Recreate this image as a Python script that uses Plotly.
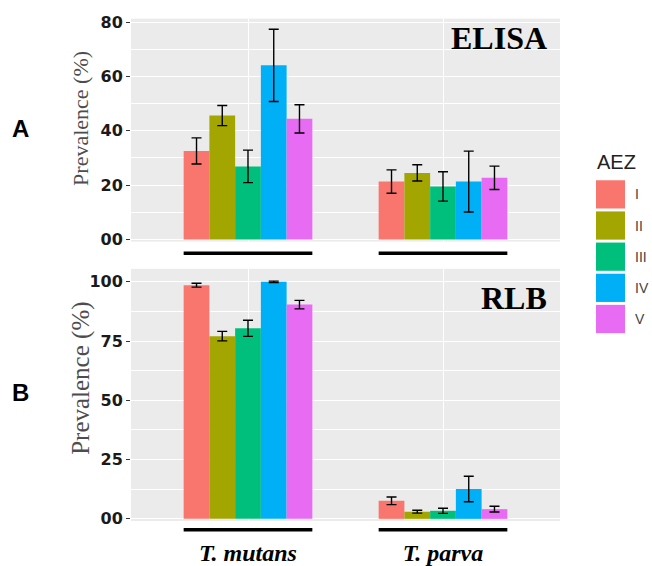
import plotly.graph_objects as go

# ---------------- data ----------------
species = ["T. mutans", "T. parva"]
species_labels = ["<i><b>T. mutans</b></i>", "<i><b>T. parva</b></i>"]
aez = ["I", "II", "III", "IV", "V"]
colors = ["#F8766D", "#A3A500", "#00BF7D", "#00B0F6", "#E76BF3"]

elisa_mutans = [32.6, 45.6, 26.9, 64.1, 44.4]
elisa_mutans_err = [4.8, 3.7, 6.0, 13.3, 5.2]
elisa_parva = [21.3, 24.5, 19.5, 21.3, 22.7]
elisa_parva_err = [4.3, 3.0, 5.4, 11.2, 4.3]

rlb_mutans = [98.6, 77.1, 80.4, 100.0, 90.4]
rlb_mutans_err = [0.8, 2.0, 3.4, 0.3, 1.8]
rlb_parva = [7.6, 3.0, 3.4, 12.6, 4.1]
rlb_parva_err = [1.6, 0.6, 1.1, 5.4, 1.2]

elisa_ticks = [0, 20, 40, 60, 80]
elisa_ticktext = ["00", "20", "40", "60", "80"]
rlb_ticks = [0, 25, 50, 75, 100]
rlb_ticktext = ["00", "25", "50", "75", "100"]

# ---------------- layout helpers ----------------
W, H = 652, 566


def px_x(p):
    return p / W


def px_y(p):
    return 1 - p / H


fig = go.Figure()

for i, name in enumerate(aez):
    fig.add_trace(go.Bar(
        x=species, y=[elisa_mutans[i], elisa_parva[i]],
        error_y=dict(type="data", array=[elisa_mutans_err[i], elisa_parva_err[i]],
                     color="black", thickness=1.4, width=5),
        marker=dict(color=colors[i], line=dict(width=0)),
        name=name, xaxis="x", yaxis="y", showlegend=False,
    ))
    fig.add_trace(go.Bar(
        x=species, y=[rlb_mutans[i], rlb_parva[i]],
        error_y=dict(type="data", array=[rlb_mutans_err[i], rlb_parva_err[i]],
                     color="black", thickness=1.4, width=5),
        marker=dict(color=colors[i], line=dict(width=0)),
        name=name, xaxis="x2", yaxis="y2", showlegend=False,
    ))

xdom = [px_x(131), px_x(560)]
tickfont = dict(family="DejaVu Sans", size=16, color="#1a1a1a", weight="bold")

common_x = dict(domain=xdom, type="category", categoryorder="array",
                categoryarray=species, range=[-0.6, 1.6],
                showgrid=True, gridcolor="white", gridwidth=1.2,
                ticks="", showline=False, zeroline=False)

fig.update_layout(
    width=W, height=H,
    margin=dict(l=0, r=0, t=0, b=0),
    paper_bgcolor="white",
    plot_bgcolor="#EBEBEB",
    barmode="group", bargap=0.34, bargroupgap=0,
    xaxis=dict(**common_x, anchor="y", showticklabels=False),
    yaxis=dict(domain=[px_y(242), px_y(13)], range=[-0.8, 81.3],
               tickvals=elisa_ticks, ticktext=elisa_ticktext,
               ticks="outside", ticklen=4, tickcolor="#333", tickwidth=1,
               tickfont=tickfont, showgrid=True, gridcolor="white", gridwidth=1.2,
               minor=dict(tickvals=[10, 30, 50, 70], showgrid=True,
                          gridcolor="white", gridwidth=0.5, ticks=""),
               zeroline=False, showline=False, anchor="x"),
    xaxis2=dict(**common_x, anchor="y2", showticklabels=True,
                tickvals=species, ticktext=species_labels,
                ticklabelstandoff=15,
                tickfont=dict(family="Liberation Serif", size=24, color="black")),
    yaxis2=dict(domain=[px_y(529), px_y(270)], range=[-0.9, 105.5],
                tickvals=rlb_ticks, ticktext=rlb_ticktext,
                ticks="outside", ticklen=4, tickcolor="#333", tickwidth=1,
                tickfont=tickfont, showgrid=True, gridcolor="white", gridwidth=1.2,
                minor=dict(tickvals=[12.5, 37.5, 62.5, 87.5], showgrid=True,
                           gridcolor="white", gridwidth=0.5, ticks=""),
                zeroline=False, showline=False, anchor="x2"),
)

annotations = []
shapes = []

# panel labels
for txt, yy in [("ELISA", 33), ("RLB", 300)]:
    annotations.append(dict(text=txt, x=px_x(549), y=px_y(yy), xref="paper", yref="paper",
                            xanchor="right", yanchor="middle", showarrow=False,
                            font=dict(family="Liberation Serif", size=32, color="black",
                                      weight="bold")))
for txt, yy in [("A", 126), ("B", 397)]:
    annotations.append(dict(text=txt, x=px_x(20), y=px_y(yy), xref="paper", yref="paper",
                            xanchor="center", yanchor="middle", showarrow=False,
                            font=dict(family="Liberation Sans", size=24, color="black",
                                      weight="bold")))
# y-axis titles
for yy, sz in [(116, 22), (383, 25)]:
    annotations.append(dict(text="Prevalence (%)", x=px_x(81), y=px_y(yy),
                            xref="paper", yref="paper", textangle=-90,
                            xanchor="center", yanchor="middle", showarrow=False,
                            font=dict(family="Liberation Serif", size=sz, color="#4d4d4d")))

# legend (manual, ggplot style)
annotations.append(dict(text="AEZ", x=px_x(595), y=px_y(160), xref="paper", yref="paper",
                        xanchor="left", yanchor="middle", showarrow=False,
                        font=dict(family="Liberation Sans", size=20, color="#222")))
for i, name in enumerate(aez):
    top = 179 + 32 * i
    shapes.append(dict(type="rect", xref="paper", yref="paper",
                       x0=px_x(596), x1=px_x(625), y0=px_y(top + 29), y1=px_y(top),
                       fillcolor=colors[i], line=dict(width=0)))
    annotations.append(dict(text=name, x=px_x(633), y=px_y(top + 14.5),
                            xref="paper", yref="paper", xanchor="left", yanchor="middle",
                            showarrow=False,
                            font=dict(family="Liberation Sans", size=14, color="#444")))

# black underline under each species group
for xref, ypix in [("x", 254), ("x2", 538)]:
    for j in range(len(species)):
        shapes.append(dict(type="line", xref=xref, yref="paper",
                           x0=j - 0.33, x1=j + 0.33, y0=px_y(ypix), y1=px_y(ypix),
                           line=dict(color="black", width=3.5)))

fig.update_layout(annotations=annotations, shapes=shapes)
fig.write_html("out.html", config={"displayModeBar": False},
               post_script="document.body.style.margin='0';document.body.style.padding='0';")
